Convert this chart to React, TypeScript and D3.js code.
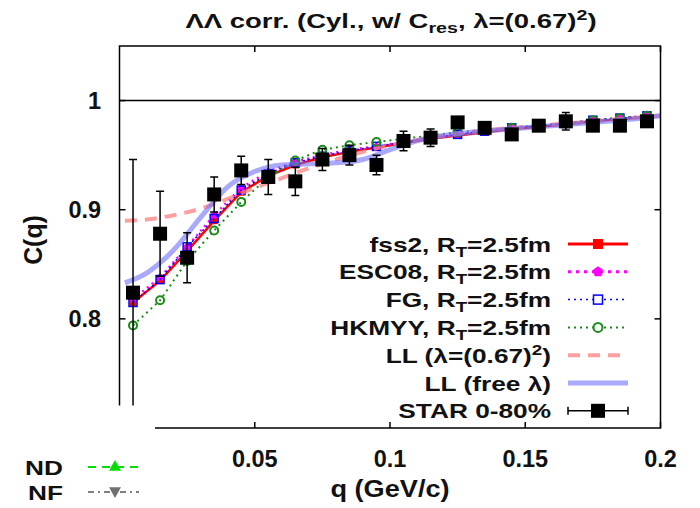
import React from 'react';
import * as d3 from 'd3';

// STAR 0-80% data
const STAR_Q = [0.005, 0.015, 0.025, 0.035, 0.045, 0.055, 0.065, 0.075, 0.085, 0.095, 0.105, 0.115, 0.125, 0.135, 0.145, 0.155, 0.165, 0.175, 0.185, 0.195];
const STAR_C = [0.824, 0.878, 0.856, 0.914, 0.936, 0.930, 0.926, 0.946, 0.950, 0.941, 0.963, 0.966, 0.980, 0.975, 0.969, 0.977, 0.981, 0.977, 0.977, 0.981];
const STAR_ERR = [0.122, 0.039, 0.023, 0.016, 0.013, 0.016, 0.013, 0.010, 0.009, 0.009, 0.009, 0.008, 0.005, 0.005, 0.005, 0.005, 0.008, 0.004, 0.004, 0.004];

// model curves at the same q
const MODEL_Q = STAR_Q;
const FSS2 = [0.815, 0.835, 0.862, 0.890, 0.916, 0.931, 0.941, 0.948, 0.953, 0.957, 0.961, 0.965, 0.968, 0.971, 0.974, 0.976, 0.978, 0.981, 0.983, 0.985];
const ESC08 = [0.818, 0.838, 0.866, 0.895, 0.920, 0.935, 0.944, 0.950, 0.955, 0.958, 0.962, 0.966, 0.969, 0.972, 0.975, 0.977, 0.979, 0.982, 0.984, 0.986];
const FG = [0.815, 0.836, 0.866, 0.892, 0.918, 0.933, 0.943, 0.949, 0.954, 0.958, 0.962, 0.966, 0.969, 0.972, 0.975, 0.977, 0.979, 0.982, 0.984, 0.986];
const HKMYY = [0.794, 0.817, 0.853, 0.881, 0.907, 0.930, 0.945, 0.955, 0.959, 0.962, 0.965, 0.968, 0.971, 0.973, 0.975, 0.977, 0.979, 0.982, 0.984, 0.986];

// Lednicky-Lyuboshitz curves
const LL_Q = [0.002, 0.01, 0.02, 0.03, 0.04, 0.05, 0.06, 0.07, 0.08, 0.09, 0.1, 0.11, 0.12, 0.13, 0.14, 0.15, 0.16, 0.17, 0.18, 0.19, 0.2];
const LL_LAMBDA = [0.890, 0.891, 0.895, 0.901, 0.910, 0.920, 0.929, 0.938, 0.946, 0.953, 0.959, 0.964, 0.968, 0.971, 0.974, 0.976, 0.978, 0.980, 0.982, 0.984, 0.986];
const LL_FREE = [0.833, 0.842, 0.863, 0.893, 0.921, 0.935, 0.941, 0.942, 0.943, 0.946, 0.955, 0.963, 0.968, 0.971, 0.973, 0.975, 0.977, 0.979, 0.981, 0.983, 0.986];

const X_TICKS = [0.05, 0.1, 0.15, 0.2];
const X_TICK_LABELS = ['0.05', '0.1', '0.15', '0.2'];
const Y_TICKS = [0.8, 0.9, 1.0];
const Y_TICK_LABELS = ['0.8', '0.9', '1'];
const MODEL_NAMES = ['fss2', 'ESC08', 'FG', 'HKMYY'];

const FONT = '"Liberation Sans", Arial, Helvetica, sans-serif';

const W = 700, H = 508;
const L = 119.5, R = 660.5, T = 46, B = 428;

function Txt({ x, y, size, sx = 1.25, anchor = 'start', children }: any) {
  return (
    <g transform={`translate(${x},${y}) scale(${sx},1)`}>
      <text x={0} y={0} fontSize={size} fontWeight="bold" textAnchor={anchor} fontFamily={FONT} fill="#111">{children}</text>
    </g>
  );
}

export default function App() {
  const x = d3.scaleLinear().domain([0, 0.2]).range([L, R]);
  const y = d3.scaleLinear().domain([0.7, 1.05]).range([B, T]);

  const line = d3.line<[number, number]>().x(d => x(d[0])).y(d => y(d[1]));
  const smooth = d3.line<[number, number]>().x(d => x(d[0])).y(d => y(d[1])).curve(d3.curveMonotoneX);

  const zip = (qs: number[], vs: number[]) => qs.map((q, i) => [q, vs[i]] as [number, number]);

  const legendY = (i: number) => 244 + i * 27.8;
  const LX0 = 568, LX1 = 628, LXM = 598, LTX = 551;
  const legendRows = [
    ...MODEL_NAMES.map(n => (
      <>
        <tspan>{n + ', R'}</tspan>
        <tspan dy={5} fontSize={15}>T</tspan>
        <tspan dy={-5}>=2.5fm</tspan>
      </>
    )),
    <>
      <tspan>LL (λ=(0.67)</tspan>
      <tspan dy={-8} fontSize={15}>2</tspan>
      <tspan dy={8}>)</tspan>
    </>,
    <tspan>LL (free λ)</tspan>,
    <tspan>STAR 0-80%</tspan>,
  ];

  const pentagon = (cx: number, cy: number, r: number) =>
    d3.range(5).map(k => {
      const a = -Math.PI / 2 + (k * 2 * Math.PI) / 5;
      return `${cx + r * Math.cos(a)},${cy + r * Math.sin(a)}`;
    }).join(' ');

  const triangle = (cx: number, cy: number, r: number, down = false) => {
    const s = down ? -1 : 1;
    return `${cx},${cy - s * r} ${cx - r},${cy + s * r * 0.8} ${cx + r},${cy + s * r * 0.8}`;
  };

  return (
    <svg width={W} height={H} style={{ position: 'absolute', left: 0, top: 0, background: '#fff' }}>
      <defs>
        <clipPath id="plot">
          <rect x={L} y={T} width={R - L} height={B - T} />
        </clipPath>
      </defs>
      <rect x={0} y={0} width={W} height={H} fill="#fff" />

      {/* title */}
      <Txt x={391} y={28} size={21} sx={1.31} anchor="middle">
        <tspan>ΛΛ corr. (Cyl., w/ C</tspan>
        <tspan dy={5} fontSize={15}>res</tspan>
        <tspan dy={-5}>, λ=(0.67)</tspan>
        <tspan dy={-8} fontSize={15}>2</tspan>
        <tspan dy={8}>)</tspan>
      </Txt>

      <g clipPath="url(#plot)">
        <line x1={L} x2={R} y1={y(1)} y2={y(1)} stroke="#000" strokeWidth={1.5} />

        {/* fss2 */}
        <path d={line(zip(MODEL_Q, FSS2)) || ''} fill="none" stroke="#ff0000" strokeWidth={2.5} />
        {MODEL_Q.map((q, i) => (
          <rect key={'f' + i} x={x(q) - 3.5} y={y(FSS2[i]) - 3.5} width={7} height={7} fill="#ff0000" />
        ))}
        {/* ESC08 */}
        <path d={line(zip(MODEL_Q, ESC08)) || ''} fill="none" stroke="#ff00ff" strokeWidth={2.5} strokeDasharray="2,4" />
        {MODEL_Q.map((q, i) => (
          <polygon key={'e' + i} points={pentagon(x(q), y(ESC08[i]), 4)} fill="#ff00ff" />
        ))}
        {/* FG */}
        <path d={line(zip(MODEL_Q, FG)) || ''} fill="none" stroke="#0000ff" strokeWidth={1.5} strokeDasharray="2,3" />
        {MODEL_Q.map((q, i) => (
          <rect key={'g' + i} x={x(q) - 4} y={y(FG[i]) - 4} width={8} height={8} fill="none" stroke="#0000ff" strokeWidth={1.5} />
        ))}
        {/* HKMYY */}
        <path d={line(zip(MODEL_Q, HKMYY)) || ''} fill="none" stroke="#1a8c1a" strokeWidth={2} strokeDasharray="2,4" />
        {MODEL_Q.map((q, i) => (
          <circle key={'h' + i} cx={x(q)} cy={y(HKMYY[i])} r={4} fill="none" stroke="#1a8c1a" strokeWidth={2} />
        ))}
        {/* LL lambda fixed */}
        <path d={smooth(zip(LL_Q, LL_LAMBDA)) || ''} fill="none" stroke="#ff8080" strokeOpacity={0.75} strokeWidth={4} strokeDasharray="12,8" />
        {/* LL free lambda */}
        <path d={smooth(zip(LL_Q, LL_FREE)) || ''} fill="none" stroke="#7070ff" strokeOpacity={0.6} strokeWidth={5} />

        {/* STAR */}
        {STAR_Q.map((q, i) => {
          const cx = x(q);
          const y0 = y(STAR_C[i] - STAR_ERR[i]);
          const y1 = y(STAR_C[i] + STAR_ERR[i]);
          return (
            <g key={'s' + i}>
              <line x1={cx} x2={cx} y1={y0} y2={y1} stroke="#000" strokeWidth={1.5} />
              <line x1={cx - 4} x2={cx + 4} y1={y0} y2={y0} stroke="#000" strokeWidth={1.5} />
              <line x1={cx - 4} x2={cx + 4} y1={y1} y2={y1} stroke="#000" strokeWidth={1.5} />
              <rect x={cx - 7} y={y(STAR_C[i]) - 7} width={14} height={14} fill="#000" />
            </g>
          );
        })}
      </g>

      {/* frame */}
      <rect x={L} y={T} width={R - L} height={B - T} fill="none" stroke="#000" strokeWidth={1.5} />
      {Y_TICKS.map((v, i) => (
        <g key={'yt' + i}>
          <line x1={L} x2={L + 6} y1={y(v)} y2={y(v)} stroke="#000" strokeWidth={1.5} />
          <line x1={R - 6} x2={R} y1={y(v)} y2={y(v)} stroke="#000" strokeWidth={1.5} />
        </g>
      ))}
      {X_TICKS.map((v, i) => (
        <g key={'xt' + i}>
          <line x1={x(v)} x2={x(v)} y1={B} y2={B - 6} stroke="#000" strokeWidth={1.5} />
          <line x1={x(v)} x2={x(v)} y1={T} y2={T + 6} stroke="#000" strokeWidth={1.5} />
        </g>
      ))}
      {/* blank lower-left corner of the panel */}
      <rect x={0} y={405.5} width={155} height={30} fill="#fff" />

      {/* tick labels */}
      {Y_TICKS.map((v, i) => (
        <Txt key={'yl' + i} x={101} y={y(v) + 8} size={23} sx={1.02} anchor="end">{Y_TICK_LABELS[i]}</Txt>
      ))}
      {X_TICKS.map((v, i) => (
        <Txt key={'xl' + i} x={x(v)} y={467} size={23} sx={1.02} anchor="middle">{X_TICK_LABELS[i]}</Txt>
      ))}

      {/* axis labels */}
      <Txt x={390} y={497} size={23} sx={1.18} anchor="middle">q (GeV/c)</Txt>
      <g transform={`translate(${42},${240}) rotate(-90) scale(1.08,1.1)`}>
        <text x={0} y={0} fontSize={23} fontWeight="bold" textAnchor="middle" fontFamily={FONT} fill="#111">C(q)</text>
      </g>

      {/* legend */}
      {legendRows.map((r, i) => (
        <Txt key={'lg' + i} x={LTX} y={legendY(i) + 7.5} size={21} sx={1.25} anchor="end">{r}</Txt>
      ))}
      <line x1={LX0} x2={LX1} y1={legendY(0)} y2={legendY(0)} stroke="#ff0000" strokeWidth={3} />
      <rect x={LXM - 5} y={legendY(0) - 5} width={10} height={10} fill="#ff0000" />
      <line x1={LX0} x2={LX1} y1={legendY(1)} y2={legendY(1)} stroke="#ff00ff" strokeWidth={3} strokeDasharray="3,5" />
      <polygon points={pentagon(LXM, legendY(1), 5.5)} fill="#ff00ff" />
      <line x1={LX0} x2={LX1} y1={legendY(2)} y2={legendY(2)} stroke="#0000ff" strokeWidth={1.5} strokeDasharray="2,4" />
      <rect x={LXM - 4.5} y={legendY(2) - 4.5} width={9} height={9} fill="#fff" stroke="#0000ff" strokeWidth={1.5} />
      <line x1={LX0} x2={LX1} y1={legendY(3)} y2={legendY(3)} stroke="#1a8c1a" strokeWidth={2} strokeDasharray="2,4" />
      <circle cx={LXM} cy={legendY(3)} r={4.5} fill="#fff" stroke="#1a8c1a" strokeWidth={2} />
      <line x1={LX0} x2={LX1} y1={legendY(4)} y2={legendY(4)} stroke="#ff8080" strokeOpacity={0.75} strokeWidth={4} strokeDasharray="12,8" />
      <line x1={LX0} x2={LX1} y1={legendY(5)} y2={legendY(5)} stroke="#7070ff" strokeOpacity={0.6} strokeWidth={5} />
      <line x1={LX0} x2={LX1} y1={legendY(6)} y2={legendY(6)} stroke="#000" strokeWidth={1.5} />
      <line x1={LX0} x2={LX0} y1={legendY(6) - 4} y2={legendY(6) + 4} stroke="#000" strokeWidth={1.5} />
      <line x1={LX1} x2={LX1} y1={legendY(6) - 4} y2={legendY(6) + 4} stroke="#000" strokeWidth={1.5} />
      <rect x={LXM - 7} y={legendY(6) - 7} width={14} height={14} fill="#000" />

      {/* ND / NF legend from neighbouring panel */}
      <Txt x={63} y={475} size={21} sx={1.25} anchor="end">ND</Txt>
      <Txt x={63} y={500} size={21} sx={1.25} anchor="end">NF</Txt>
      <line x1={88} x2={139} y1={467} y2={467} stroke="#00e000" strokeWidth={2} strokeDasharray="8,6" />
      <polygon points={triangle(115, 466, 6)} fill="#00e000" />
      <line x1={88} x2={139} y1={492} y2={492} stroke="#808080" strokeWidth={2} strokeDasharray="6,4,2,4" />
      <polygon points={triangle(115, 492, 6, true)} fill="#707070" />
    </svg>
  );
}
